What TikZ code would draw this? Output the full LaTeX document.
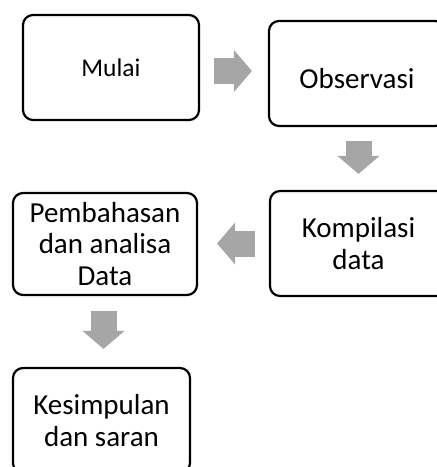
\documentclass[tikz,border=0pt]{standalone}
\usepackage{fontspec}
\setmainfont{Carlito}
\usetikzlibrary{arrows.meta}
\definecolor{ArrowGray}{RGB}{166,166,166}

\begin{document}
\begin{tikzpicture}[x=1pt,y=-1pt,
        stepbox/.style={draw,line width=2.2pt,rounded corners=10pt,
            minimum width=176pt,minimum height=105pt,inner sep=0pt,
            align=center,font=\fontsize{29}{31.5}\selectfont},
        fatarrow/.style={draw=ArrowGray,line width=26pt,
            -{Triangle[width=42pt,length=18pt,line width=0pt]}}]
                \useasboundingbox (0,0) rectangle (437,467);
                \clip (0,0) rectangle (437,467);

                \node[stepbox,font=\fontsize{25.5}{30}\selectfont] (mulai) at (111,67.5) {Mulai};
                \node[stepbox,text height=30pt] (obs) at (357,73.5) {Observasi};
                \node[stepbox,minimum width=177pt] (komp) at (358.5,243.5) {Kompilasi\\data};
                \node[stepbox,minimum width=184pt,minimum height=102pt] (pemb) at (105,244) {Pembahasan\\dan analisa\\Data};
                \node[stepbox,minimum width=177pt] (kesim) at (101.5,420.5) {Kesimpulan\\dan saran};

                \draw[fatarrow,shorten <=14pt,shorten >=16pt] ([yshift=-3.5pt]mulai.east) -- ([yshift=-3.5pt]mulai.east -| obs.west);
                \draw[fatarrow,shorten <=14pt,shorten >=16pt] ([xshift=1.5pt]obs.south) -- ([xshift=1.5pt]obs.south |- komp.north);
                \draw[fatarrow,shorten <=14pt,shorten >=19pt] (komp.west) -- (komp.west -| pemb.east);
                \draw[fatarrow,shorten <=15pt,shorten >=18pt] ([xshift=-1.5pt]pemb.south) -- ([xshift=-1.5pt]pemb.south |- kesim.north);
        \end{tikzpicture}
\end{document}
